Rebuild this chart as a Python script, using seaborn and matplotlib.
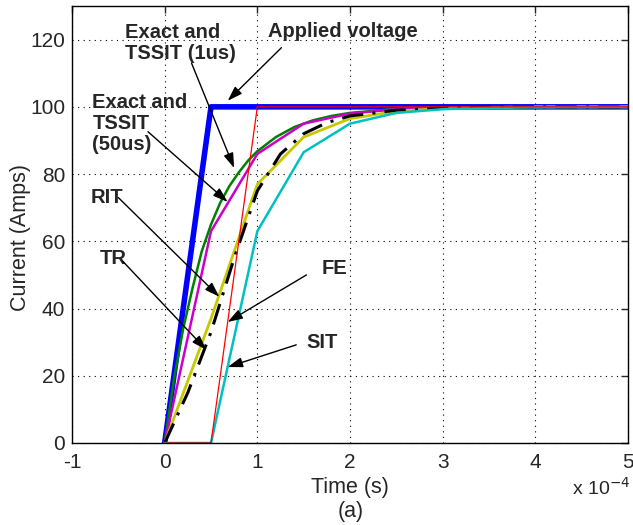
import matplotlib
matplotlib.use("Agg")
import matplotlib.pyplot as plt
import seaborn as sns
import numpy as np

# ---- data (time in units of 1e-4 s, current in A) ----
t_applied = [0, 0.5, 5]
i_applied = [0, 100, 100]

t_exact = [0, 0.1, 0.2, 0.3, 0.4, 0.5, 0.6, 0.7, 0.8, 0.9, 1.0, 1.2, 1.4, 1.6, 1.8, 2.0, 2.5, 3.0, 4.0, 5.0]
i_exact = [0, 19, 34, 46, 57, 65, 71.5, 76.5, 80.5, 84, 86.8, 91, 94, 96, 97.3, 98.2, 99.4, 99.8, 100, 100]

t_tssit50 = [0, 0.5, 1.0, 1.5, 2.0, 2.5, 3.0, 3.5, 4.0, 5.0]
i_tssit50 = [0, 63, 86, 95, 98, 99.3, 99.7, 99.9, 100, 100]

t_rit = [0, 0.5, 1.0, 1.5, 2.0, 2.5, 3.0, 3.5, 4.0, 5.0]
i_rit = [0, 37, 77, 91, 96.5, 98.7, 99.5, 99.8, 100, 100]

t_tr = [0, 0.25, 0.5, 0.75, 1.0, 1.25, 1.5, 1.75, 2.0, 2.5, 3.0, 4.0, 5.0]
i_tr = [0, 15, 33, 55, 75, 86, 92, 95.3, 97.3, 99, 99.7, 100, 100]

t_sit = [0, 0.5, 1.0, 1.5, 2.0, 2.5, 3.0, 3.5, 4.0, 5.0]
i_sit = [0, 0, 63, 86.5, 95, 98.2, 99.3, 99.7, 99.9, 100]

t_fe = [0, 0.5, 1.0, 5.0]
i_fe = [0, 0, 100, 100]

x_ticks = [-1, 0, 1, 2, 3, 4, 5]
y_ticks = [0, 20, 40, 60, 80, 100, 120]

sns.set_style("white")
plt.rcParams['font.family'] = ['Liberation Sans', 'DejaVu Sans']

fig = plt.figure(figsize=(6.33, 5.25), dpi=100)
ax = fig.add_axes([72/633, 1-443/525, (628-72)/633, (443-6)/525])

series = [
    (t_applied, i_applied, '#0000ff', 4.0, '-'),
    (t_exact, i_exact, '#008000', 1.8, '-'),
    (t_tssit50, i_tssit50, '#cc00cc', 1.8, '-'),
    (t_rit, i_rit, '#c8c800', 2.0, '-'),
    (t_tr, i_tr, 'black', 2.2, (0, (7, 3, 1, 3))),
    (t_sit, i_sit, '#00c0c0', 1.8, '-'),
    (t_fe, i_fe, '#ff0000', 0.9, '-'),
]
for tx, iy, col, lw, ls in series:
    sns.lineplot(x=tx, y=iy, ax=ax, color=col, linewidth=lw, linestyle=ls,
                 estimator=None, sort=False, legend=False)

ax.set_xlim(-1, 5)
ax.set_ylim(0, 130)
ax.set_xticks(x_ticks)
ax.set_yticks(y_ticks)
ax.set_xticklabels([str(v) for v in x_ticks])
ax.set_yticklabels([str(v) for v in y_ticks])
ax.grid(True, color='black', linestyle=(0, (1, 4)), linewidth=0.8)
ax.tick_params(direction='in', length=5, width=1, top=True, right=True,
               labelsize=15, pad=5)
ax.tick_params(axis='x', pad=7)
for s in ax.spines.values():
    s.set_color('black')
    s.set_linewidth(1.0)
ax.set_ylabel('Current (Amps)', fontsize=15.5)
ax.yaxis.set_label_coords(-0.073, 0.47)
ax.set_xlabel('Time (s)', fontsize=15.5, labelpad=4)
fig.text(351/633, 1-512/525, '(a)', fontsize=15.5, ha='center', va='center')
fig.text(630/633, 1-488/525, 'x 10$^{-4}$', fontsize=14, ha='right', va='center')

ap = dict(arrowstyle='-|>,head_length=0.9,head_width=0.3', color='black',
          lw=1.0, shrinkA=0, shrinkB=0)
fs = 14.5

ax.text(1.92, 122.3, 'Applied voltage', fontsize=fs, fontweight='bold', ha='center', va='center')
ax.annotate('', xy=(0.68, 101.8), xytext=(1.26, 117.6), arrowprops=ap)

ax.text(-0.43, 119, 'Exact and\nTSSIT (1us)', fontsize=fs, fontweight='bold',
        ha='left', va='center', multialignment='left', linespacing=1.15)
ax.annotate('', xy=(0.75, 81.8), xytext=(0.29, 113), arrowprops=ap)

ax.text(-0.78, 95, 'Exact and\nTSSIT\n(50us)', fontsize=fs, fontweight='bold',
        ha='left', va='center', multialignment='left', linespacing=1.15)
ax.annotate('', xy=(0.68, 71.7), xytext=(-0.18, 92.6), arrowprops=ap)

ax.text(-0.62, 73, 'RIT', fontsize=fs, fontweight='bold', ha='center', va='center')
ax.annotate('', xy=(0.59, 43.5), xytext=(-0.5, 73), arrowprops=ap)

ax.text(-0.55, 55, 'TR', fontsize=fs, fontweight='bold', ha='center', va='center')
ax.annotate('', xy=(0.45, 27.7), xytext=(-0.45, 54), arrowprops=ap)

ax.text(1.83, 52, 'FE', fontsize=fs, fontweight='bold', ha='center', va='center')
ax.annotate('', xy=(0.68, 36), xytext=(1.53, 50), arrowprops=ap)

ax.text(1.70, 30, 'SIT', fontsize=fs, fontweight='bold', ha='center', va='center')
ax.annotate('', xy=(0.68, 22.6), xytext=(1.42, 29.2), arrowprops=ap)

fig.savefig('out.png', dpi=100)
